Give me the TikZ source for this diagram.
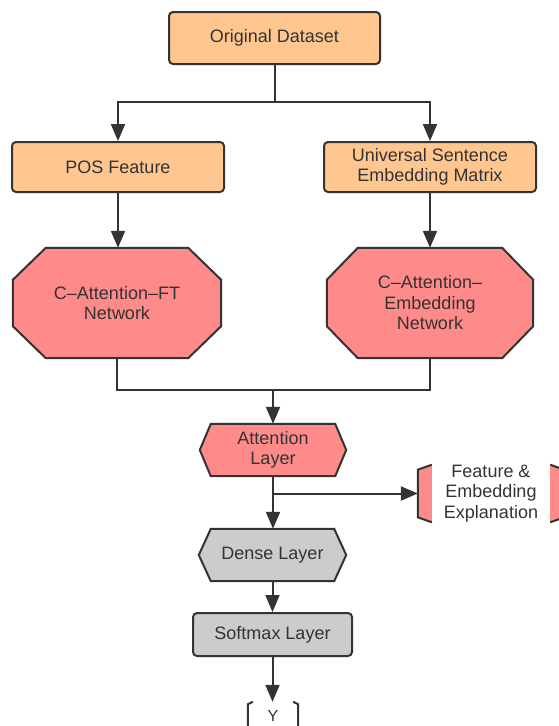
\documentclass[tikz,border=0pt]{standalone}
\usepackage{fontspec}
\setmainfont{Liberation Sans}
\usetikzlibrary{arrows.meta,calc}
\definecolor{stroke}{HTML}{333333}
\definecolor{orangef}{HTML}{FFC78F}
\definecolor{pinkf}{HTML}{FF8A8A}
\definecolor{grayf}{HTML}{CCCCCC}
\pgfdeclarelayer{bg}
\pgfsetlayers{bg,main}
\begin{document}
\begin{tikzpicture}[x=1pt,y=-1pt,
  txt/.style={font=\fontsize{18}{20.5}\selectfont, text=stroke, align=center, inner sep=0pt},
  rbox/.style={txt, draw=stroke, line width=2pt, rounded corners=4pt},
  sbox/.style 2 args={txt, minimum width=#1, minimum height=#2},
  shp/.style={draw=stroke, line width=2pt, line join=miter},
  edge/.style={draw=stroke, line width=2pt},
  arr/.style={edge, -{Triangle[length=17pt,width=14pt]}}]
\useasboundingbox (0,0) rectangle (558,726);
\clip (0,0) rectangle (558,726);

% nodes
\node[rbox, fill=orangef, minimum width=211pt, minimum height=52pt] (orig) at (274.5,38) {Original Dataset};
\node[rbox, fill=orangef, minimum width=212pt, minimum height=50pt] (pos) at (118,167) {POS Feature};
\node[rbox, fill=orangef, minimum width=212pt, minimum height=50pt] (use) at (430,167) {Universal Sentence\\Embedding Matrix};
\node[sbox={208pt}{110pt}] (ft) at (117,303) {C–Attention–FT\\Network};
\node[sbox={206pt}{110pt}] (emb) at (430,303) {C–Attention–\\Embedding\\Network};
\node[sbox={146pt}{52pt}] (att) at (273,450) {Attention\\Layer};
\node[sbox={146pt}{57pt}] (expl) at (491,493.5) {Feature \&\\Embedding\\Explanation};
\node[sbox={147pt}{52pt}] (dense) at (272.5,555) {Dense Layer};
\node[rbox, fill=grayf, minimum width=159pt, minimum height=43pt] (soft) at (272.5,634.5) {Softmax Layer};
\node[sbox={50pt}{28pt}, font=\fontsize{16}{18}\selectfont] (yout) at (273,716) {Y};

% shapes behind text
\begin{pgfonlayer}{bg}
\filldraw[shp, fill=pinkf] ($(ft.north west)+(33,0)$) -- ($(ft.north east)+(-33,0)$) -- ($(ft.north east)+(0,32)$) -- ($(ft.south east)+(0,-32)$) -- ($(ft.south east)+(-33,0)$) -- ($(ft.south west)+(33,0)$) -- ($(ft.south west)+(0,-32)$) -- ($(ft.north west)+(0,32)$) -- cycle;
\filldraw[shp, fill=pinkf] ($(emb.north west)+(31,0)$) -- ($(emb.north east)+(-31,0)$) -- ($(emb.north east)+(0,32)$) -- ($(emb.south east)+(0,-32)$) -- ($(emb.south east)+(-31,0)$) -- ($(emb.south west)+(31,0)$) -- ($(emb.south west)+(0,-32)$) -- ($(emb.north west)+(0,32)$) -- cycle;
\filldraw[shp, fill=pinkf] ($(att.north west)+(11,0)$) -- ($(att.north east)+(-11,0)$) -- (att.east) -- ($(att.south east)+(-11,0)$) -- ($(att.south west)+(11,0)$) -- (att.west) -- cycle;
\filldraw[shp, fill=grayf] ($(dense.north west)+(12,0)$) -- ($(dense.north east)+(-12,0)$) -- (dense.east) -- ($(dense.south east)+(-12,0)$) -- ($(dense.south west)+(12,0)$) -- (dense.west) -- cycle;
% explanation caps
\fill[pinkf] ($(expl.north west)+(0,5)$) -- ($(expl.north west)+(14,0)$) -- ($(expl.south west)+(14,0)$) -- ($(expl.south west)+(0,-5)$) -- cycle;
\draw[shp] ($(expl.north west)+(14,0)$) -- ($(expl.north west)+(0,5)$) -- ($(expl.south west)+(0,-5)$) -- ($(expl.south west)+(14,0)$);
\fill[pinkf] ($(expl.north east)+(0,5)$) -- ($(expl.north east)+(-14,0)$) -- ($(expl.south east)+(-14,0)$) -- ($(expl.south east)+(0,-5)$) -- cycle;
\draw[shp] ($(expl.north east)+(-14,0)$) -- ($(expl.north east)+(0,5)$) -- ($(expl.south east)+(0,-5)$) -- ($(expl.south east)+(-14,0)$);
% Y brackets
\draw[shp] ($(yout.north west)+(5,0)$) -- ($(yout.north west)+(0,2.5)$) -- ($(yout.south west)+(0,-2.5)$) -- ($(yout.south west)+(5,0)$);
\draw[shp] ($(yout.north east)+(-5,0)$) -- ($(yout.north east)+(0,2.5)$) -- ($(yout.south east)+(0,-2.5)$) -- ($(yout.south east)+(-5,0)$);
\end{pgfonlayer}

% connectors
\coordinate (split) at (274.5,102);
\coordinate (merge) at (273,390);
\coordinate (branch) at (273,493.5);
\draw[edge] (orig.south) -- (split);
\draw[arr] (split) -| (pos.north);
\draw[arr] (split) -| (use.north);
\draw[arr] (pos.south) -- (pos.south |- ft.north);
\draw[arr] (use.south) -- (emb.north);
\draw[edge] (ft.south) |- (merge);
\draw[edge] (emb.south) |- (merge);
\draw[arr] (merge) -- (att.north);
\draw[arr] (att.south) -- (dense.north -| att.south);
\draw[arr] (branch) -- (expl.west);
\draw[arr] (dense.south) -- (soft.north -| dense.south);
\draw[arr] (soft.south) -- (soft.south |- yout.north);
\end{tikzpicture}
\end{document}
